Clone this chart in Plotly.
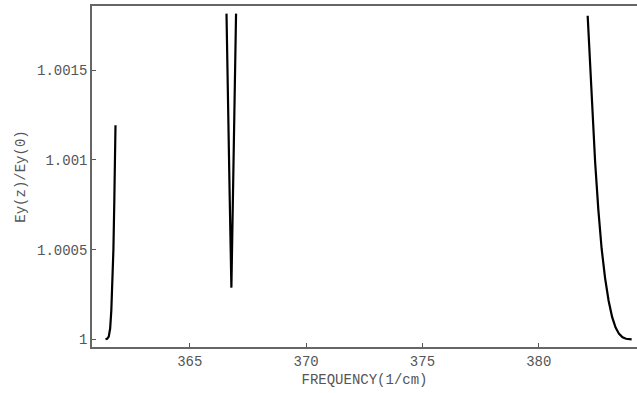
import plotly.graph_objects as go

# Branch 1 (rising near 361.4-361.8)
freq_a = [361.38, 361.45, 361.52, 361.58, 361.63, 361.68, 361.72, 361.76, 361.79, 361.81]
ratio_a = [1.0, 1.000003, 1.000015, 1.00006, 1.00016, 1.00031, 1.00050, 1.00078, 1.00100, 1.001193]

# Branch 2 (narrow V near 366.8)
freq_b = [366.58, 366.63, 366.72, 366.79, 366.86, 366.95, 366.99]
ratio_b = [1.001816, 1.001333, 1.000775, 1.000288, 1.000848, 1.001333, 1.001816]

# Branch 3 (falling 382.1-384.0)
freq_c = [382.10, 382.28, 382.42, 382.56, 382.70, 382.85, 383.00, 383.15, 383.30,
          383.45, 383.60, 383.75, 383.90, 383.99]
ratio_c = [1.001804, 1.001333, 1.000990, 1.000720, 1.000505, 1.000340, 1.000215,
           1.000125, 1.000065, 1.000030, 1.000011, 1.000003, 1.0000005, 1.0]

x_ticks = [365, 370, 375, 380]
y_ticks = [1.0, 1.0005, 1.001, 1.0015]
y_tick_text = ["1", "1.0005", "1.001", "1.0015"]

fig = go.Figure()
for fx, fy in [(freq_a, ratio_a), (freq_b, ratio_b), (freq_c, ratio_c)]:
    fig.add_trace(go.Scatter(x=fx, y=fy, mode="lines",
                             line=dict(color="black", width=2.2),
                             showlegend=False, hoverinfo="skip"))

font = dict(family="Liberation Mono, Courier New, monospace", size=14, color="#555555")

fig.update_layout(
    width=637, height=393,
    margin=dict(l=92, r=0, t=6, b=46),
    paper_bgcolor="white", plot_bgcolor="white",
    font=font,
    xaxis=dict(range=[360.8, 384.22], tickvals=x_ticks, ticks="inside", ticklen=4,
               tickcolor="#555555", showline=True, linecolor="#666666", linewidth=1.5,
               mirror=True, showgrid=False, zeroline=False,
               tickfont=font,
               title=dict(text="FREQUENCY(1/cm)", font=font, standoff=6)),
    yaxis=dict(range=[0.999957, 1.0018585], tickvals=y_ticks, ticktext=y_tick_text,
               ticks="inside", ticklen=4, tickcolor="#555555",
               showline=True, linecolor="#666666", linewidth=1.5, mirror=False,
               showgrid=False, zeroline=False, tickfont=font,
               title=dict(text="Ey(z)/Ey(0)", font=font, standoff=8)),
)

fig.write_html("out.html")
